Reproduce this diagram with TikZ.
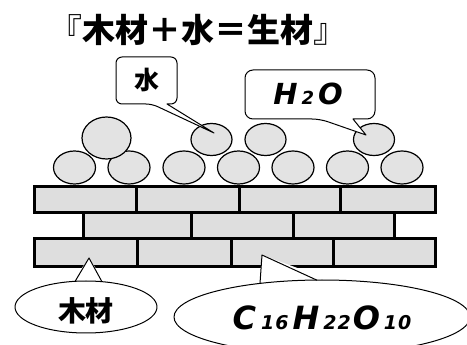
\documentclass[tikz,border=0pt]{standalone}
\usepackage{fontspec}
\newfontfamily\cjk{Noto Sans CJK JP}
\newfontfamily\lat{DejaVu Sans}
\begin{document}
\begin{tikzpicture}[x=1pt,y=-1pt,
  brick/.style={draw=black,line width=3pt,fill=black!13},
  bead/.style={draw=black,line width=1.2pt,fill=black!11},
  bubble/.style={draw=black,line width=1pt,fill=white,line join=round},
  cjkbig/.style={font=\cjk\bfseries\fontsize{33}{33}\selectfont,inner sep=0pt},
  cjkmid/.style={font=\cjk\bfseries\fontsize{28}{28}\selectfont,inner sep=0pt},
  formula/.style={font=\lat\bfseries\itshape,inner sep=0pt}]
\useasboundingbox (0,0) rectangle (467,345);
\fill[white] (0,0) rectangle (467,345);

% title
\node[cjkbig] (title) at (198,30) {{\mdseries『}木材＋水＝生材{\mdseries』}};

% beads: bottom row
\foreach \i/\cx in {1/74.5,2/129,3/184,4/238.5,5/293,6/347.5,7/402}
  \draw[bead] (\cx,167.5) ellipse [x radius=21, y radius=16.5];
% beads: top row
\draw[bead] (106.5,138) ellipse [x radius=24.5, y radius=21];
\foreach \cx in {211.5,265.5,374}
  \draw[bead] (\cx,139.5) ellipse [x radius=20.5, y radius=16];

% bricks
\foreach \a/\b in {34.5/136,136/239,239/340,340/435.5}
  \draw[brick] (\a,186.5) rectangle (\b,212.5);
\foreach \a/\b in {83/191,191/293,293/394.5}
  \draw[brick] (\a,212.5) rectangle (\b,238.5);
\foreach \a/\b in {34.5/137,137/231,231/333,333/435.5}
  \draw[brick] (\a,238.5) rectangle (\b,266.5);

% callout: water
\draw[bubble] (167,104) [rounded corners=6pt] -- (177,104) -- (177,57) -- (116,57) -- (116,104) -- (152,104) [sharp corners] -- (214,133) -- cycle;
\node[cjkmid,font=\cjk\bfseries\fontsize{25}{25}\selectfont] (mizu) at (146.5,80) {水};

% callout: H2O
\draw[bubble] (353,119) [rounded corners=8pt] -- (375,119) -- (375,70) -- (245,70) -- (245,119) -- (320,119) [sharp corners] -- (366,135) -- cycle;
\node[formula] (h2o) at (308,94) {\fontsize{29}{29}\selectfont H\hspace{4pt}\fontsize{18}{18}\selectfont 2\hspace{4pt}\fontsize{29}{29}\selectfont O};

% callout: wood
\draw[bubble] (86,307) ellipse [x radius=71, y radius=26];
\coordinate (w1) at (75,281.5);
\coordinate (w2) at (102,281.8);
\coordinate (wt) at (89,258);
\fill[white] ([yshift=4pt]w1) -- (wt) -- ([yshift=4pt]w2) -- cycle;
\draw[line width=1pt,line join=round] (w1) -- (wt) -- (w2);
\node[cjkmid] (mokuzai) at (86,311) {木材};

% callout: formula
\draw[bubble] (322,317) ellipse [x radius=148, y radius=37];
\coordinate (f1) at (260,283.4);
\coordinate (f2) at (317,280.2);
\coordinate (ft) at (262,255);
\fill[white] ([yshift=5pt]f1) -- (ft) -- ([yshift=5pt]f2) -- cycle;
\draw[line width=1pt,line join=round] (f1) -- (ft) -- (f2);
\node[formula] (formula) at (322,318) {\fontsize{32}{32}\selectfont C\hspace{5pt}\fontsize{19}{19}\selectfont 1\hspace{1pt}6\hspace{4pt}\fontsize{32}{32}\selectfont H\hspace{4pt}\fontsize{19}{19}\selectfont 2\hspace{1pt}2\hspace{2pt}\fontsize{32}{32}\selectfont O\hspace{4pt}\fontsize{19}{19}\selectfont 1\hspace{1pt}0};
\end{tikzpicture}
\end{document}
